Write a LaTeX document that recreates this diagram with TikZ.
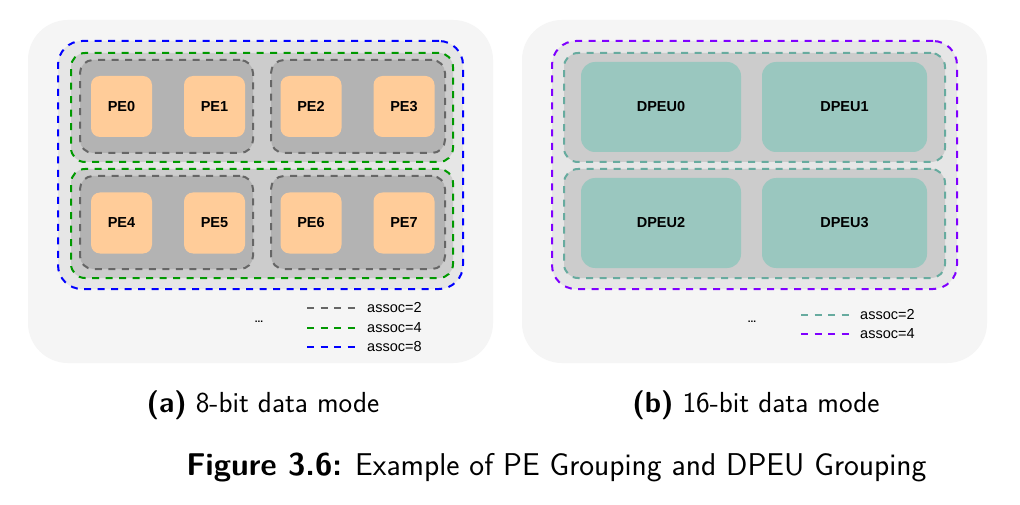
\documentclass[tikz,border=0pt]{standalone}
\usepackage{fontspec}
\setmainfont{Liberation Sans}
\setsansfont{Latin Modern Sans}
\begin{document}
\begin{tikzpicture}[x=1pt,y=-1pt,
  dsh/.style={line width=2pt,dash pattern=on 7pt off 6.5pt},
  panel/.style={draw=none,fill=bgc,rounded corners=40pt,inner sep=0pt},
  region/.style={dsh,fill=regc,rounded corners=24pt,inner sep=0pt},
  group/.style={dsh,fill=grpc,rounded corners=14pt,inner sep=0pt},
  pair/.style={dsh,fill=pairc,draw=dgray,rounded corners=13pt,inner sep=0pt},
  pe/.style={fill=pec,rounded corners=9pt,inner sep=0pt,minimum width=61pt,minimum height=61pt,font=\fontsize{14.5}{16}\selectfont\bfseries},
  dpeu/.style={fill=dpc,rounded corners=14pt,inner sep=0pt,minimum height=90pt,font=\fontsize{14.5}{16}\selectfont\bfseries},
  legline/.style={dsh},
  legtext/.style={anchor=west,inner sep=0pt,font=\fontsize{14.5}{16}\selectfont},
  dotstext/.style={font=\fontsize{10}{12}\selectfont\bfseries,inner sep=0pt},
  captext/.style={font=\sffamily\fontsize{29}{34}\selectfont,inner sep=0pt},
  figtext/.style={font=\sffamily\fontsize{31.5}{36}\selectfont,inner sep=0pt}
]
\definecolor{bgc}{HTML}{F5F5F5}
\definecolor{regc}{HTML}{E6E6E6}
\definecolor{grpc}{HTML}{CCCCCC}
\definecolor{pairc}{HTML}{B3B3B3}
\definecolor{pec}{HTML}{FFCC99}
\definecolor{dpc}{HTML}{9AC7BF}
\definecolor{dgray}{HTML}{666666}
\definecolor{dgreen}{HTML}{009900}
\definecolor{dblue}{HTML}{0000FF}
\definecolor{dpurple}{HTML}{7F00FF}
\definecolor{dteal}{HTML}{67AB9F}

\useasboundingbox[fill=white] (0,0) rectangle (1020,505);

% ---- panel (a)
\node[panel,minimum width=465pt,minimum height=343pt] (bgA) at (260.5,191.5) {};
\node[region,draw=dblue,minimum width=405pt,minimum height=248pt] (a8) at (260.5,165) {};
\node[group,draw=dgreen,minimum width=382pt,minimum height=109pt] (a4top) at (262,107.5) {};
\node[group,draw=dgreen,minimum width=382pt,minimum height=109pt] (a4bot) at (262,223.5) {};
\node[pair,minimum width=173pt,minimum height=93pt] (a2a) at (166.5,106.5) {};
\node[pair,minimum width=174pt,minimum height=93pt] (a2b) at (358,106.5) {};
\node[pair,minimum width=173pt,minimum height=93pt] (a2c) at (166.5,222.5) {};
\node[pair,minimum width=174pt,minimum height=93pt] (a2d) at (358,222.5) {};
\node[pe] (pe0) at (121.5,106.5) {PE0};
\node[pe] (pe1) at (214.5,106.5) {PE1};
\node[pe] (pe2) at (311,106.5) {PE2};
\node[pe] (pe3) at (404,106.5) {PE3};
\node[pe] (pe4) at (121.5,223) {PE4};
\node[pe] (pe5) at (214.5,223) {PE5};
\node[pe] (pe6) at (311,223) {PE6};
\node[pe] (pe7) at (404,223) {PE7};
% legend (a)
\coordinate (la1s) at (307,308); \coordinate (la1e) at (357,308);
\coordinate (la2s) at (307,328); \coordinate (la2e) at (357,328);
\coordinate (la3s) at (307,347); \coordinate (la3e) at (357,347);
\draw[legline,dgray] (la1s) -- (la1e);
\draw[legline,dgreen] (la2s) -- (la2e);
\draw[legline,dblue] (la3s) -- (la3e);
\node[legtext] (ta1) at (367,308) {assoc=2};
\node[legtext] (ta2) at (367,328) {assoc=4};
\node[legtext] (ta3) at (367,347) {assoc=8};
\node[dotstext] (dotsA) at (259,322) {...};

% ---- panel (b)
\node[panel,minimum width=465pt,minimum height=343pt] (bgB) at (754.5,191.5) {};
\node[region,draw=dpurple,minimum width=405pt,minimum height=248pt] (b4) at (754.5,165) {};
\node[group,draw=dteal,minimum width=381pt,minimum height=109pt] (b2top) at (754.5,107.5) {};
\node[group,draw=dteal,minimum width=381pt,minimum height=109pt] (b2bot) at (754.5,223.5) {};
\node[dpeu,minimum width=160pt] (d0) at (661,107) {DPEU0};
\node[dpeu,minimum width=165pt] (d1) at (844.5,107) {DPEU1};
\node[dpeu,minimum width=160pt] (d2) at (661,223) {DPEU2};
\node[dpeu,minimum width=165pt] (d3) at (844.5,223) {DPEU3};
% legend (b)
\coordinate (lb1s) at (801,315); \coordinate (lb1e) at (850,315);
\coordinate (lb2s) at (801,334); \coordinate (lb2e) at (850,334);
\draw[legline,dteal] (lb1s) -- (lb1e);
\draw[legline,dpurple] (lb2s) -- (lb2e);
\node[legtext] (tb1) at (860,315) {assoc=2};
\node[legtext] (tb2) at (860,334) {assoc=4};
\node[dotstext] (dotsB) at (752,322) {...};

% ---- captions
\node[captext] (capA) at (263,405) {\textbf{(a)} 8-bit data mode};
\node[captext] (capB) at (756,405) {\textbf{(b)} 16-bit data mode};
\node[figtext] (capF) at (556.5,467) {\textbf{Figure 3.6:} Example of PE Grouping and DPEU Grouping};
\end{tikzpicture}
\end{document}
